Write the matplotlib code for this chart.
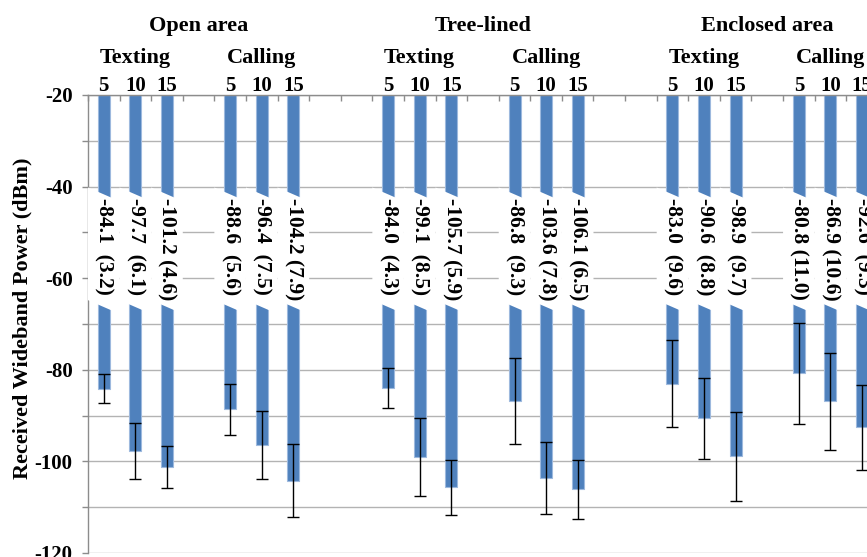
import matplotlib
matplotlib.use("Agg")
import matplotlib.pyplot as plt
from matplotlib.patches import Polygon
from matplotlib.ticker import MultipleLocator, FixedLocator

# ---- data ----
environments = ["Open area", "Tree-lined", "Enclosed area"]
modes = ["Texting", "Calling"]
distances = ["5", "10", "15"]

open_texting_mean = [-84.1, -97.7, -101.2]
open_texting_sd = [3.2, 6.1, 4.6]
open_calling_mean = [-88.6, -96.4, -104.2]
open_calling_sd = [5.6, 7.5, 7.9]
tree_texting_mean = [-84.0, -99.1, -105.7]
tree_texting_sd = [4.3, 8.5, 5.9]
tree_calling_mean = [-86.8, -103.6, -106.1]
tree_calling_sd = [9.3, 7.8, 6.5]
encl_texting_mean = [-83.0, -90.6, -98.9]
encl_texting_sd = [9.6, 8.8, 9.7]
encl_calling_mean = [-80.8, -86.9, -92.6]
encl_calling_sd = [11.0, 10.6, 9.3]

means = [[open_texting_mean, open_calling_mean],
         [tree_texting_mean, tree_calling_mean],
         [encl_texting_mean, encl_calling_mean]]
sds = [[open_texting_sd, open_calling_sd],
       [tree_texting_sd, tree_calling_sd],
       [encl_texting_sd, encl_calling_sd]]

y_ticks = [-20, -40, -60, -80, -100, -120]
baseline = -20

# ---- style ----
FONT = "Liberation Serif"
plt.rcParams["font.family"] = [FONT, "DejaVu Serif"]
plt.rcParams["font.weight"] = "bold"
BAR = "#4F81BD"
GRID = "#b3b3b3"
AXC = "#8c8c8c"

fig = plt.figure(figsize=(8.67, 5.57), dpi=100)
ax = fig.add_axes([0.1015, 0.0072, 0.911, 0.8223])

xs, ms, ss = [], [], []
for e in range(3):
    for m in range(2):
        for d in range(3):
            xs.append(e * 9 + m * 4 + d)
            ms.append(means[e][m][d])
            ss.append(sds[e][m][d])

heights = [v - baseline for v in ms]
ax.bar(xs, heights, bottom=baseline, width=0.38, color=BAR,
       edgecolor="#9DB9DE", linewidth=0.8, zorder=2)
ax.errorbar(xs, ms, yerr=ss, fmt="none", ecolor="black", elinewidth=1.0,
            capsize=4, capthick=1.0, zorder=3)

# white label boxes (slanted) + labels
top_y, bot_y, slant = -41.7, -66.3, 3.0
for x, v, s in zip(xs, ms, ss):
    poly = Polygon([(x - 0.5, top_y + slant / 2), (x + 0.5, top_y - slant / 2),
                    (x + 0.5, bot_y - slant / 2), (x - 0.5, bot_y + slant / 2)],
                   closed=True, facecolor="white", edgecolor="none", zorder=4)
    ax.add_patch(poly)
    vs = f"{v:.1f}"
    sd = f"({s:.1f})"
    gap = " " * max(1, 12 - len(vs) - len(sd))
    ax.text(x, -42.4, vs + gap + sd, rotation=270, ha="center", va="top",
            fontsize=15.5, fontweight="bold", zorder=5)

ax.set_xlim(-0.5, 24.5)
ax.set_ylim(-120, -20)

# grid
ax.yaxis.set_major_locator(FixedLocator(y_ticks))
ax.yaxis.set_minor_locator(MultipleLocator(10))
ax.set_yticklabels([str(t) for t in y_ticks])
ax.grid(axis="y", which="both", color=GRID, linewidth=1.0, zorder=0)
ax.set_axisbelow(True)

# spines
for sp in ["right", "bottom"]:
    ax.spines[sp].set_visible(False)
ax.spines["left"].set_color(AXC)
ax.spines["top"].set_color(AXC)
ax.spines["left"].set_linewidth(1.0)
ax.spines["top"].set_linewidth(1.0)

ax.tick_params(axis="y", which="both", direction="out", length=4, color=AXC,
               width=1.0, pad=7, labelsize=15)
ax.tick_params(axis="y", which="minor", length=4)

# x axis on top
ax.xaxis.tick_top()
ax.set_xticks(xs)
ax.set_xticklabels([distances[i % 3] for i in range(len(xs))])
ax.xaxis.set_minor_locator(FixedLocator([i - 0.5 for i in range(26)]))
ax.tick_params(axis="x", which="major", length=0, pad=-0.8, labelsize=15)
ax.tick_params(axis="x", which="minor", direction="in", length=4.5,
               color=AXC, width=1.0, top=True, bottom=False)
for lab in ax.get_xticklabels() + ax.get_yticklabels():
    lab.set_fontweight("bold")

trans = ax.get_xaxis_transform()
for e, env in enumerate(environments):
    ax.text(e * 9 + 3, 1.1405, env, transform=trans, ha="center",
            va="baseline", fontsize=16, fontweight="bold", clip_on=False)
    for m, mode in enumerate(modes):
        ax.text(e * 9 + m * 4 + 1, 1.0705, mode, transform=trans, ha="center",
                va="baseline", fontsize=16, fontweight="bold", clip_on=False)

fig.text(22 / 867, 0.429, "Received Wideband Power (dBm)", rotation=90,
         ha="center", va="center", fontsize=16, fontweight="bold")

fig.savefig("out.png", dpi=100)
